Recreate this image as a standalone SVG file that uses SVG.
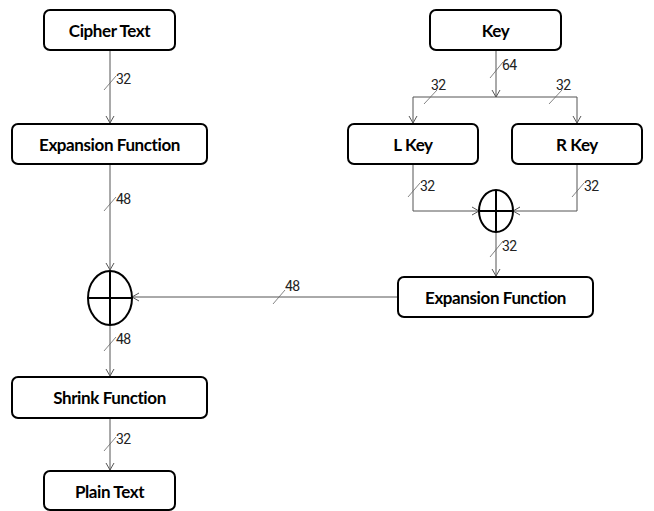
<svg xmlns="http://www.w3.org/2000/svg" width="654" height="511" viewBox="0 0 654 511">
<style>
.box{fill:#fff;stroke:#000;stroke-width:2}
.lbl{font-family:Lato,"Liberation Sans",sans-serif;font-weight:bold;font-size:17px;letter-spacing:-0.4px;fill:#000;text-anchor:middle;dominant-baseline:central}
.wire{fill:none;stroke:#555;stroke-width:1}
.tick{fill:none;stroke:#666;stroke-width:0.8}
.num{font-family:"Liberation Sans Narrow",Roboto,"Liberation Sans",sans-serif;font-size:14px;fill:#222;letter-spacing:-0.5px}
.xor{fill:#fff;stroke:#000;stroke-width:2}
</style>
<defs>
<marker id="arr" viewBox="-8 -5 10 10" refX="0" refY="0" markerWidth="10" markerHeight="10" markerUnits="userSpaceOnUse" orient="auto">
<path d="M-7,-4 L0,0 L-7,4" fill="none" stroke="#555" stroke-width="1"/>
</marker>
</defs>
<g id="connectors">
<path class="wire" d="M110,50 V123" marker-end="url(#arr)"/>
<path class="wire" d="M110,164 V270" marker-end="url(#arr)"/>
<path class="wire" d="M110,325 V376" marker-end="url(#arr)"/>
<path class="wire" d="M110,418 V470" marker-end="url(#arr)"/>
<path class="wire" d="M496,50 V97" marker-end="url(#arr)"/>
<path class="wire" d="M496,97 H413 V123" marker-end="url(#arr)"/>
<path class="wire" d="M496,97 H577 V123" marker-end="url(#arr)"/>
<path class="wire" d="M413,164 V211 H479" marker-end="url(#arr)"/>
<path class="wire" d="M577,164 V211 H513" marker-end="url(#arr)"/>
<path class="wire" d="M496,232 V276" marker-end="url(#arr)"/>
<path class="wire" d="M398,297 H132" marker-end="url(#arr)"/>
<g id="ticks">
<path class="tick" d="M104,90 L116,76"/><text class="num" x="116" y="84">32</text>
<path class="tick" d="M104,211 L116,197"/><text class="num" x="116" y="204">48</text>
<path class="tick" d="M104,351 L116,337"/><text class="num" x="116" y="344">48</text>
<path class="tick" d="M104,451 L116,437"/><text class="num" x="116" y="444">32</text>
<path class="tick" d="M273,304 L285,290"/><text class="num" x="285" y="291">48</text>
<path class="tick" d="M490,78 L503,62"/><text class="num" x="502" y="70">64</text>
<path class="tick" d="M424,104 L437,90"/><text class="num" x="431" y="90">32</text>
<path class="tick" d="M549,104 L562,90"/><text class="num" x="556" y="90">32</text>
<path class="tick" d="M408,197 L420,183"/><text class="num" x="420" y="191">32</text>
<path class="tick" d="M572,197 L584,183"/><text class="num" x="584" y="191">32</text>
<path class="tick" d="M490,257 L503,241"/><text class="num" x="502" y="251">32</text>
</g>
</g>
<g id="cipher"><rect class="box" x="44" y="10" width="131" height="40" rx="6"/><text class="lbl" x="109.5" y="30">Cipher Text</text></g>
<g id="exp_left"><rect class="box" x="12" y="124" width="195" height="40" rx="6"/><text class="lbl" x="109.5" y="144">Expansion Function</text></g>
<g id="xor_left"><ellipse class="xor" cx="110" cy="298" rx="22" ry="27"/><path d="M110,271 V325 M88,298 H132" stroke="#000" stroke-width="2"/></g>
<g id="shrink"><rect class="box" x="12" y="377" width="195" height="41" rx="6"/><text class="lbl" x="109.5" y="397.5">Shrink Function</text></g>
<g id="plain"><rect class="box" x="44" y="471" width="131" height="39" rx="6"/><text class="lbl" x="109.5" y="491">Plain Text</text></g>
<g id="key"><rect class="box" x="430" y="10" width="131" height="40" rx="6"/><text class="lbl" x="495.5" y="30">Key</text></g>
<g id="lkey"><rect class="box" x="348" y="124" width="130" height="40" rx="6"/><text class="lbl" x="413" y="144">L Key</text></g>
<g id="rkey"><rect class="box" x="512" y="124" width="130" height="40" rx="6"/><text class="lbl" x="577" y="144">R Key</text></g>
<g id="xor_right"><ellipse class="xor" cx="496" cy="211" rx="17" ry="21"/><path d="M496,190 V232 M479,211 H513" stroke="#000" stroke-width="2"/></g>
<g id="exp_right"><rect class="box" x="398" y="277" width="195" height="40" rx="6"/><text class="lbl" x="495.5" y="297">Expansion Function</text></g>
</svg>
